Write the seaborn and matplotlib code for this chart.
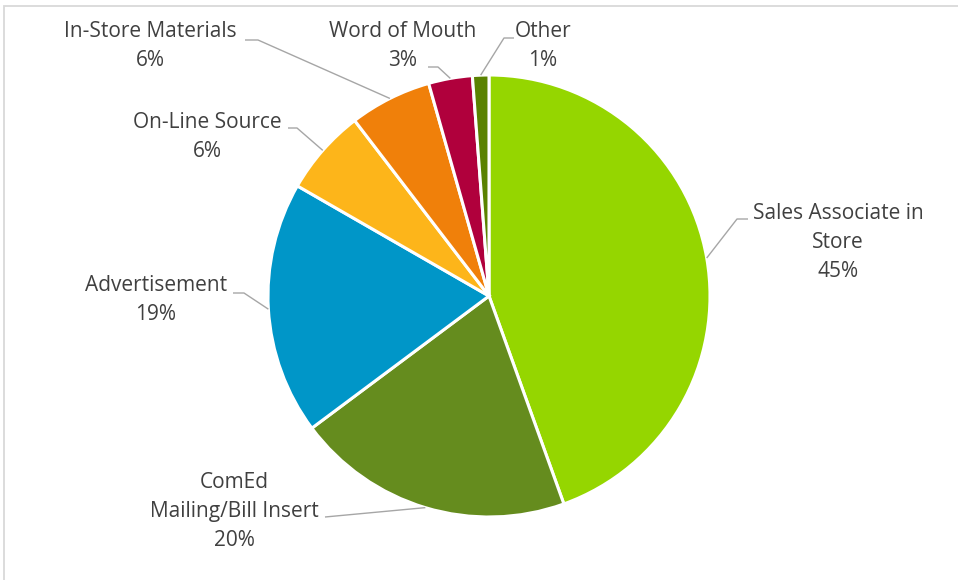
import numpy as np
import matplotlib
matplotlib.use("Agg")
import matplotlib.pyplot as plt
import seaborn as sns
from matplotlib.patches import Rectangle

sns.set_theme(style="white")
plt.rcParams['font.family'] = ['Open Sans', 'DejaVu Sans']

categories = ["Sales Associate in\nStore", "ComEd\nMailing/Bill Insert", "Advertisement",
              "On-Line Source", "In-Store Materials", "Word of Mouth", "Other"]
values = [44.5, 20.3, 18.5, 6.3, 6.0, 3.2, 1.2]
pct_labels = ["45%", "20%", "19%", "6%", "6%", "3%", "1%"]
colors = ["#95D600", "#658C1E", "#0096C8", "#FDB51A", "#F0800A", "#B0003C", "#5A8200"]

W, H, DPI = 958, 580, 100
CX, CY, R = 489, 296, 221

fig = plt.figure(figsize=(W / DPI, H / DPI), dpi=DPI)
ax = fig.add_axes([0, 0, 1, 1])

def px(x, y):
    return ((x - CX) / R, (CY - y) / R)

wedges, _ = ax.pie(values, colors=colors, startangle=90, counterclock=False,
                   radius=1, center=(0, 0),
                   wedgeprops=dict(edgecolor="white", linewidth=2.2))
ax.set_xlim(-CX / R, (W - CX) / R)
ax.set_ylim(-(H - CY) / R, CY / R)
ax.set_aspect("equal")
ax.axis("off")

# layout: label center (px), leader start (px, near label), elbow (px)
layout = [
    ((838, 242), (748, 219), (737, 219)),
    ((234, 511), (325, 517), (325, 517)),
    ((156, 300), (233, 293), (244, 293)),
    ((207, 137), (288, 128), (297, 128)),
    ((150, 46), (245, 40), (258, 40)),
    ((403, 46), (428, 67), (438, 67)),
    ((543, 46), (514, 38), (504, 38)),
]

for w, cat, pl, (tc, ls, el) in zip(wedges, categories, pct_labels, layout):
    ang = np.deg2rad((w.theta1 + w.theta2) / 2)
    ax_pt = (np.cos(ang), np.sin(ang))
    p1 = px(*ls)
    p2 = px(*el)
    ax.plot([p1[0], p2[0], ax_pt[0]], [p1[1], p2[1], ax_pt[1]],
            color="#A6A6A6", lw=1.0, solid_capstyle="butt", zorder=1)
    tx, ty = px(*tc)
    ax.text(tx, ty, f"{cat}\n{pl}", ha="center", va="center", fontsize=15,
            color="#404040", linespacing=1.5, multialignment="center")

fig.patches.append(Rectangle((4 / W, 0 - 0.01), 1.2, (H - 6) / H + 0.01,
                             transform=fig.transFigure, fill=False,
                             edgecolor="#D9D9D9", linewidth=1.3))

fig.savefig("out.png", dpi=DPI)
